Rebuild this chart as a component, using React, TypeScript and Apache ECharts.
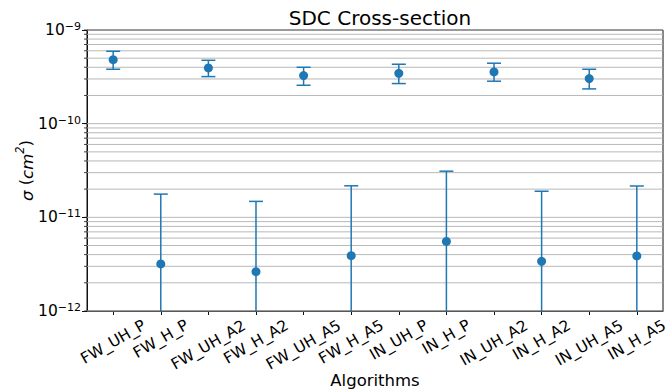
import React, { useEffect, useRef } from "react";
import * as echarts from "echarts";

const categories = [
  "FW_UH_P", "FW_H_P", "FW_UH_A2", "FW_H_A2", "FW_UH_A5", "FW_H_A5",
  "IN_UH_P", "IN_H_P", "IN_UH_A2", "IN_H_A2", "IN_UH_A5", "IN_H_A5",
];
const sigma = [
  4.82e-10, 3.18e-12, 3.94e-10, 2.63e-12, 3.26e-10, 3.9e-12,
  3.45e-10, 5.53e-12, 3.57e-10, 3.39e-12, 3.03e-10, 3.87e-12,
];
const upperBound = [
  5.93e-10, 1.77e-11, 4.75e-10, 1.48e-11, 4.0e-10, 2.17e-11,
  4.31e-10, 3.11e-11, 4.42e-10, 1.9e-11, 3.81e-10, 2.16e-11,
];
// null: lower end of the error bar falls below the plotted range
const lowerBound: (number | null)[] = [
  3.81e-10, null, 3.18e-10, null, 2.57e-10, null,
  2.68e-10, null, 2.84e-10, null, 2.35e-10, null,
];
const yMin = 1e-12;
const yMax = 1e-9;
const decades = [-12, -11, -10];

const BLUE = "#1f77b4";
const FONT = "DejaVu Sans";
const LABEL_SIZE = 15.5;
const X_MIN = -0.55;
const X_MAX = 11.55;

export default function App() {
  const ref = useRef<HTMLDivElement>(null);
  useEffect(() => {
    document.body.style.margin = "0";
    const chart = echarts.init(ref.current!, null, { renderer: "svg" });

    const gridValues: number[] = [];
    decades.forEach((d) => {
      for (let k = 1; k <= 9; k++) gridValues.push(k * Math.pow(10, d));
    });
    gridValues.push(yMax);

    const xs = categories.map((_, i) => i);

    // matplotlib centres the rotated label's bounding box on the tick, with its top
    // just under the axis; emulate by giving each label a margin based on its length.
    const ctx = document.createElement("canvas").getContext("2d")!;
    ctx.font = `${LABEL_SIZE}px "${FONT}"`;
    const groups = new Map<number, number[]>();
    categories.forEach((c, i) => {
      const w = ctx.measureText(c).width;
      const m = Math.round((13 + 0.25 * w) * 2) / 2;
      if (!groups.has(m)) groups.set(m, []);
      groups.get(m)!.push(i);
    });

    const labelAxes: any[] = [];
    groups.forEach((idxs, m) => {
      labelAxes.push({
        type: "value",
        gridIndex: 0,
        position: "bottom",
        min: X_MIN,
        max: X_MAX,
        axisLine: { show: false, onZero: false },
        axisTick: { show: false },
        splitLine: { show: false },
        axisLabel: {
          customValues: idxs,
          rotate: 30,
          align: "center",
          verticalAlign: "middle",
          margin: m,
          fontFamily: FONT,
          fontSize: LABEL_SIZE,
          color: "#000",
          formatter: (v: number) => categories[Math.round(v)] ?? "",
        },
      });
    });

    const option: any = {
      animation: false,
      textStyle: { fontFamily: FONT, color: "#000" },
      title: {
        text: "SDC Cross-section",
        left: 375,
        textAlign: "center",
        top: 3,
        textStyle: { fontFamily: FONT, fontSize: 20, fontWeight: "normal", color: "#000" },
      },
      grid: {
        left: 87, right: 9, top: 30, bottom: 78,
        containLabel: false,
        outerBoundsMode: "none",
        show: true, borderColor: "#111", borderWidth: 1,
      },
      xAxis: [
        {
          type: "value",
          min: X_MIN,
          max: X_MAX,
          position: "bottom",
          name: "Algorithms",
          nameLocation: "middle",
          nameGap: 61,
          nameMoveOverlap: false,
          nameTextStyle: { fontFamily: FONT, fontSize: 16.5, color: "#000" },
          axisLine: { show: true, onZero: false, lineStyle: { color: "#111", width: 1 } },
          axisTick: { show: true, length: 4, customValues: xs, lineStyle: { color: "#111" } },
          axisLabel: { show: false, customValues: xs },
          splitLine: { show: false },
        },
        ...labelAxes,
      ],
      yAxis: {
        type: "log",
        logBase: 10,
        min: yMin,
        max: yMax,
        splitNumber: 3,
        name: "{i|σ} ({i|cm}{s|2})",
        nameLocation: "middle",
        nameGap: 51,
        nameMoveOverlap: false,
        nameRotate: 90,
        nameTextStyle: {
          fontFamily: FONT,
          fontSize: 16.5,
          color: "#000",
          rich: {
            i: { fontFamily: FONT, fontSize: 16.5, fontStyle: "italic", color: "#000", verticalAlign: "bottom", lineHeight: 22 },
            s: { fontFamily: FONT, fontSize: 11.5, fontStyle: "italic", color: "#000", verticalAlign: "top", lineHeight: 22 },
          },
        },
        axisLine: { show: true, onZero: false, lineStyle: { color: "#111", width: 1 } },
        axisTick: { show: true, length: 5, lineStyle: { color: "#111" } },
        splitLine: { show: false },
        axisLabel: {
          margin: 6,
          fontFamily: FONT,
          color: "#000",
          formatter: (v: number) => {
            const e = Math.round(Math.log10(v));
            return "{b|10}{s|\u2212" + -e + "}";
          },
          rich: {
            b: { fontFamily: FONT, fontSize: 15.5, color: "#000", verticalAlign: "middle", lineHeight: 18 },
            s: { fontFamily: FONT, fontSize: 11, color: "#000", verticalAlign: "top", lineHeight: 18 },
          },
        },
      },
      series: [
        {
          type: "custom",
          name: "grid",
          silent: true,
          z: 1,
          xAxisIndex: 0,
          data: gridValues.map((v) => [0, v]),
          renderItem: (params: any, api: any) => {
            const cs = params.coordSys;
            const p = api.coord([0, api.value(1)]);
            const y = p[1];
            const children: any[] = [
              {
                type: "line",
                shape: { x1: cs.x, y1: y, x2: cs.x + cs.width, y2: y },
                style: { stroke: "#b0b0b0", lineWidth: 0.9 },
              },
              {
                type: "line",
                shape: { x1: cs.x - 3, y1: y, x2: cs.x, y2: y },
                style: { stroke: "#111", lineWidth: 0.8 },
              },
            ];
            return { type: "group", children };
          },
        },
        {
          type: "custom",
          name: "errorbars",
          silent: true,
          z: 3,
          xAxisIndex: 0,
          encode: { x: 0, y: 1 },
          data: categories.map((_, i) => [i, upperBound[i], lowerBound[i] ?? 0]),
          renderItem: (params: any, api: any) => {
            const x = api.value(0);
            const hi = api.value(1);
            const lo = api.value(2);
            const loClamped = lo > yMin ? lo : yMin;
            const pHi = api.coord([x, hi]);
            const pLo = api.coord([x, loClamped]);
            const cap = 7;
            const children: any[] = [
              {
                type: "line",
                shape: { x1: pHi[0], y1: pHi[1], x2: pLo[0], y2: pLo[1] },
                style: { stroke: BLUE, lineWidth: 1.5 },
              },
              {
                type: "line",
                shape: { x1: pHi[0] - cap, y1: pHi[1], x2: pHi[0] + cap, y2: pHi[1] },
                style: { stroke: BLUE, lineWidth: 1.5 },
              },
            ];
            if (lo > yMin) {
              children.push({
                type: "line",
                shape: { x1: pLo[0] - cap, y1: pLo[1], x2: pLo[0] + cap, y2: pLo[1] },
                style: { stroke: BLUE, lineWidth: 1.5 },
              });
            }
            return { type: "group", children };
          },
        },
        {
          type: "scatter",
          name: "sigma",
          z: 4,
          xAxisIndex: 0,
          symbol: "circle",
          symbolSize: 9,
          itemStyle: { color: BLUE, opacity: 1 },
          data: categories.map((_, i) => [i, sigma[i]]),
        },
      ],
    };
    chart.setOption(option);
    return () => chart.dispose();
  }, []);
  return <div ref={ref} style={{ width: 672, height: 389 }} />;
}
